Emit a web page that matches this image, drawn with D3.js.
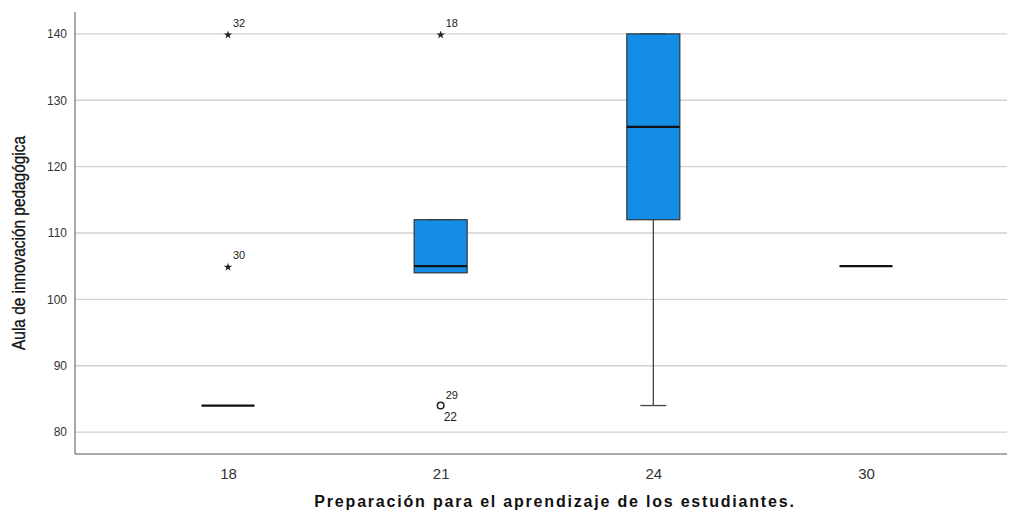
<!DOCTYPE html>
<html><head><meta charset="utf-8">
<script src="https://cdn.jsdelivr.net/npm/d3@7"></script>
<style>body{margin:0;background:#fff}svg{display:block}</style>
</head><body><svg id="c" width="1009" height="512"></svg>
<script>
const categories = ["18","21","24","30"];
const q1      = [84, 104, 112, 105];
const median  = [84, 105, 126, 105];
const q3      = [84, 112, 140, 105];
const whiskLo = [84, 104, 84, 105];
const whiskHi = [84, 112, 140, 105];
const outliers = [
  {cat:"18", value:140, type:"extreme", label:"32"},
  {cat:"18", value:105, type:"extreme", label:"30"},
  {cat:"21", value:140, type:"extreme", label:"18"},
  {cat:"21", value:84,  type:"mild", label:"29", label2:"22"}
];
const yTicks = [80,90,100,110,120,130,140];

const svg = d3.select("#c");
const L = 75, R = 1007, T = 12, B = 454;
const y = d3.scaleLinear().domain([76.7, 143.3]).range([B, T]);
const x = d3.scalePoint().domain(categories).range([228, 866]);
const boxW = 53;

// gridlines
svg.append("g").selectAll("line").data(yTicks).join("line")
  .attr("x1", L).attr("x2", R).attr("y1", d=>y(d)).attr("y2", d=>y(d))
  .attr("stroke", "#d2d2d2").attr("stroke-width", 1.3);

// y axis
const ya = svg.append("g").attr("transform", `translate(${L},0)`)
  .call(d3.axisLeft(y).tickValues(yTicks).tickSize(0).tickPadding(8));
ya.select(".domain").attr("stroke", "#555").attr("d", `M0,${T}V${B}`);
ya.selectAll("text").attr("font-family","Arial, 'Liberation Sans', sans-serif").attr("font-size", 12).attr("fill","#333");

// x axis
const xa = svg.append("g").attr("transform", `translate(0,${B})`)
  .call(d3.axisBottom(x).tickSize(0).tickPadding(14));
xa.select(".domain").attr("stroke", "#555").attr("d", `M${L},0H${R}`);
xa.selectAll("text").attr("font-family","Arial, 'Liberation Sans', sans-serif").attr("font-size", 15).attr("fill","#333");

// boxes
const g = svg.append("g");
categories.forEach((c,i)=>{
  const cx = x(c);
  if (whiskLo[i] < q1[i]) {
    g.append("line").attr("x1",cx).attr("x2",cx).attr("y1",y(q1[i])).attr("y2",y(whiskLo[i])).attr("stroke","#444").attr("stroke-width",1.3);
    g.append("line").attr("x1",cx-13).attr("x2",cx+13).attr("y1",y(whiskLo[i])).attr("y2",y(whiskLo[i])).attr("stroke","#444").attr("stroke-width",1.3);
  }
  if (whiskHi[i] > q3[i]) {
    g.append("line").attr("x1",cx).attr("x2",cx).attr("y1",y(q3[i])).attr("y2",y(whiskHi[i])).attr("stroke","#444").attr("stroke-width",1.3);
    g.append("line").attr("x1",cx-13).attr("x2",cx+13).attr("y1",y(whiskHi[i])).attr("y2",y(whiskHi[i])).attr("stroke","#444").attr("stroke-width",1.3);
  } else if (q3[i] > q1[i]) {
    g.append("line").attr("x1",cx-13).attr("x2",cx+13).attr("y1",y(whiskHi[i])).attr("y2",y(whiskHi[i])).attr("stroke","#444").attr("stroke-width",1.3);
  }
  if (q3[i] > q1[i]) {
    g.append("rect").attr("x",cx-boxW/2).attr("width",boxW).attr("y",y(q3[i])).attr("height",y(q1[i])-y(q3[i]))
      .attr("fill","#138de6").attr("stroke","#333").attr("stroke-width",1.2);
  }
  g.append("line").attr("x1",cx-boxW/2).attr("x2",cx+boxW/2).attr("y1",y(median[i])).attr("y2",y(median[i]))
    .attr("stroke","#111").attr("stroke-width",2.2);
});

// outliers
const star = d3.symbol().type(d3.symbolStar).size(22);
outliers.forEach(o=>{
  const cx = x(o.cat), cy = y(o.value);
  if (o.type === "extreme") {
    g.append("path").attr("d", star()).attr("transform",`translate(${cx},${cy+1})`).attr("fill","#222");
  } else {
    g.append("circle").attr("cx",cx).attr("cy",cy).attr("r",3.3).attr("fill","none").attr("stroke","#222").attr("stroke-width",1.5);
  }
  g.append("text").attr("x",cx+5).attr("y",cy-7).text(o.label)
    .attr("font-family","Arial, 'Liberation Sans', sans-serif").attr("font-size",11).attr("fill","#222");
  if (o.label2) {
    g.append("text").attr("x",cx+3).attr("y",cy+15).text(o.label2)
      .attr("font-family","Arial, 'Liberation Sans', sans-serif").attr("font-size",12).attr("fill","#222");
  }
});

// titles
svg.append("text").attr("transform","translate(25,243) rotate(-90) scale(0.88,1)").attr("text-anchor","middle")
  .attr("font-family","Arial, 'Liberation Sans', sans-serif").attr("font-size",17.5).attr("fill","#111")
  .attr("stroke","#111").attr("stroke-width",0.3)
  .text("Aula de innovación pedagógica");
svg.append("text").attr("x",555).attr("y",507).attr("text-anchor","middle")
  .attr("font-family","Arial, 'Liberation Sans', sans-serif").attr("font-size",16).attr("font-weight","bold").attr("fill","#111")
  .attr("letter-spacing","1.8px")
  .text("Preparación para el aprendizaje de los estudiantes.");
</script></body></html>
